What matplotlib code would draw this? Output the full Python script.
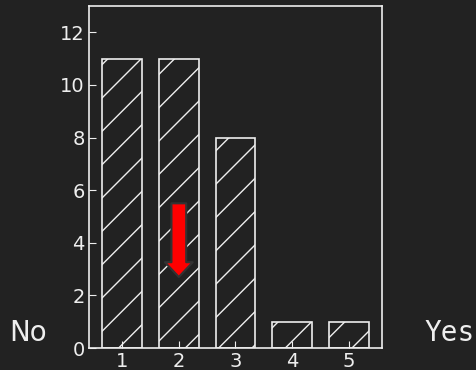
import matplotlib
matplotlib.use("Agg")
import matplotlib.pyplot as plt

positions = [1, 2, 3, 4, 5]
counts = [11, 11, 8, 1, 1]
yticks = [0, 2, 4, 6, 8, 10, 12]

arrow_x = 2
arrow_top = 5.5
arrow_bottom = 2.7

bg = "#222222"
fg = "#eeeeee"

fig = plt.figure(figsize=(4.77, 3.70), dpi=100, facecolor=bg)
ax = fig.add_axes([89 / 477, 22 / 370, (382 - 89) / 477, (348 - 6) / 370])
ax.set_facecolor(bg)

plt.rcParams['hatch.color'] = fg
ax.bar(positions, counts, width=0.7, color="none", edgecolor=fg, hatch="/", linewidth=1.2)

ax.set_ylim(0, 13)
ax.set_yticks(yticks)
ax.set_xticks(positions)
ax.tick_params(direction="in", colors=fg, labelsize=14, length=5, pad=3)
for s in ax.spines.values():
    s.set_color(fg)
    s.set_linewidth(1.2)

ax.annotate("", xy=(arrow_x, arrow_bottom), xytext=(arrow_x, arrow_top),
            arrowprops=dict(arrowstyle="simple,head_width=1.6,head_length=0.85,tail_width=0.85",
                            facecolor="red", edgecolor="#333333", linewidth=1.5,
                            shrinkA=0, shrinkB=0, mutation_scale=12.5))

fig.text(28 / 477, 1 - 333 / 370, "No", color=fg, fontsize=20, ha="center", va="center")
fig.text(450 / 477, 1 - 333 / 370, "Yes", color=fg, fontsize=20, ha="center", va="center",
         family="DejaVu Sans Mono")

fig.savefig("out.png", facecolor=bg)
